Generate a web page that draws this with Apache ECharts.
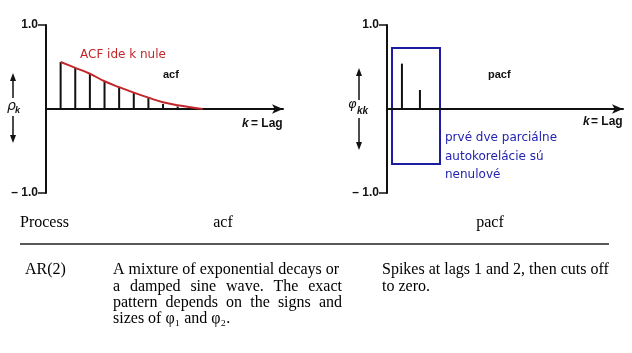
<!DOCTYPE html>
<html>
<head>
<meta charset="utf-8">
<script src="https://cdn.jsdelivr.net/npm/echarts@6/dist/echarts.min.js"></script>
<style>
html, body { margin: 0; padding: 0; background: #fff; }
#chart { width: 632px; height: 353px; }
</style>
</head>
<body>
<div id="chart"></div>
<script>
// acf spikes and the red envelope drawn over them
var acfLags = [1, 2, 3, 4, 5, 6, 7, 8, 9];
var acfValues = [0.56, 0.49, 0.42, 0.325, 0.26, 0.195, 0.13, 0.06, 0.03];
var curveLags = [1, 2, 3, 4, 5, 6, 7, 8, 9, 10.7];
var curveValues = [0.56, 0.49, 0.42, 0.33, 0.26, 0.195, 0.135, 0.08, 0.045, 0];
// pacf spikes
var pacfLags = [1, 2];
var pacfValues = [0.54, 0.226];

var tableHead = ['Process', 'acf', 'pacf'];
var acfText = [
	'A mixture of exponential decays or',
	'a damped sine wave. The exact',
	'pattern depends on the signs and',
	'sizes of \u03c6\u2081 and \u03c6\u2082.'
];
var pacfText = ['Spikes at lags 1 and 2, then cuts off', 'to zero.'];
var noteText = ['prvé dve parciálne', 'autokorelácie sú', 'nenulové'];

var sans = '"Liberation Sans", Arial, sans-serif';
var serif = '"Liberation Serif", "Times New Roman", serif';
var serifFont = '16px ' + serif;

function pairs(xs, ys) {
	return xs.map(function (x, i) { return [x, ys[i]]; });
}

function yAxisFor(gi) {
	return {
		gridIndex: gi,
		type: 'value',
		min: -1,
		max: 1,
		interval: 2,
		axisLine: { show: true, lineStyle: { color: '#111', width: 2 } },
		axisTick: { show: true, length: 8, lineStyle: { color: '#111', width: 1.5 } },
		axisLabel: {
			margin: 8,
			color: '#111',
			fontFamily: sans,
			fontWeight: 'bold',
			fontSize: 12,
			formatter: function (v) { return v > 0 ? '1.0' : '\u2013 1.0'; }
		},
		splitLine: { show: false }
	};
}

function xAxisFor(gi, min, max) {
	return {
		gridIndex: gi,
		type: 'value',
		min: min,
		max: max,
		axisLine: {
			show: true,
			onZero: true,
			symbol: ['none', 'arrow'],
			symbolSize: [7, 11],
			lineStyle: { color: '#111', width: 2 }
		},
		axisTick: { show: false },
		axisLabel: { show: false },
		splitLine: { show: false }
	};
}

// canvas measuring, used to spread words of a justified line
var measureCtx = document.createElement('canvas').getContext('2d');
function textLine(str, x, y, justifyTo) {
	if (!justifyTo) {
		return [{ type: 'text', style: { text: str, x: x, y: y, font: serifFont, fill: '#000', textVerticalAlign: 'middle' } }];
	}
	measureCtx.font = serifFont;
	var words = str.split(' ');
	var total = 0;
	words.forEach(function (w) { total += measureCtx.measureText(w).width; });
	var gap = (justifyTo - x - total) / (words.length - 1);
	var out = [];
	var cx = x;
	words.forEach(function (w) {
		out.push({ type: 'text', style: { text: w, x: cx, y: y, font: serifFont, fill: '#000', textVerticalAlign: 'middle' } });
		cx += measureCtx.measureText(w).width + gap;
	});
	return out;
}

function vArrows(x, upTop, upBottom, downTop, downBottom) {
	var st = { stroke: '#111', lineWidth: 1.5 };
	return [
		{ type: 'line', shape: { x1: x, y1: upBottom, x2: x, y2: upTop + 4 }, style: st },
		{ type: 'polygon', shape: { points: [[x, upTop], [x - 3, upTop + 8], [x + 3, upTop + 8]] }, style: { fill: '#111' } },
		{ type: 'line', shape: { x1: x, y1: downTop, x2: x, y2: downBottom - 4 }, style: st },
		{ type: 'polygon', shape: { points: [[x, downBottom], [x - 3, downBottom - 8], [x + 3, downBottom - 8]] }, style: { fill: '#111' } }
	];
}

function label(text, x, y, font, fill, align) {
	return { type: 'text', style: { text: text, x: x, y: y, font: font, fill: fill || '#111', textAlign: align || 'left', textVerticalAlign: 'middle' } };
}

var graphics = [];
// left chart labels
graphics.push(label('ACF ide k nule', 80, 55, '12px "DejaVu Sans", sans-serif', '#c3262a'));
graphics.push(label('acf', 163, 75, 'bold 11px ' + sans));
graphics.push(label('k', 242, 124, 'italic bold 12px ' + sans));
graphics.push(label('= Lag', 251, 124, 'bold 12px ' + sans));
graphics.push(label('\u03c1', 7, 106, 'italic 14px "DejaVu Sans", sans-serif'));
graphics.push(label('k', 15, 111, 'italic bold 9px ' + sans));
graphics = graphics.concat(vArrows(13, 73, 98, 116, 143));
// right chart labels
graphics.push(label('pacf', 488, 75, 'bold 11px ' + sans));
graphics.push(label('k', 583, 122, 'italic bold 12px ' + sans));
graphics.push(label('= Lag', 591, 122, 'bold 12px ' + sans));
graphics.push(label('\u03c6', 348, 105, 'italic 13px "DejaVu Sans", sans-serif'));
graphics.push(label('kk', 357, 111, 'italic bold 10px ' + sans));
graphics = graphics.concat(vArrows(359, 68, 100, 118, 150));
graphics.push({ type: 'rect', shape: { x: 392, y: 48, width: 48, height: 116 }, style: { fill: 'none', stroke: '#1c1ca0', lineWidth: 2 } });
noteText.forEach(function (t, i) {
	graphics.push(label(t, 445, 138 + i * 18.5, '12px "DejaVu Sans", sans-serif', '#2323b0'));
});
// table below the charts
graphics.push(label(tableHead[0], 20, 223, serifFont, '#000'));
graphics.push(label(tableHead[1], 223, 223, serifFont, '#000', 'center'));
graphics.push(label(tableHead[2], 490, 223, serifFont, '#000', 'center'));
graphics.push({ type: 'line', shape: { x1: 20, y1: 244, x2: 609, y2: 244 }, style: { stroke: '#222', lineWidth: 1.6 } });
graphics.push(label('AR(2)', 25, 270, serifFont, '#000'));
acfText.forEach(function (t, i) {
	graphics = graphics.concat(textLine(t, 113, 270 + i * 16.3, (i > 0 && i < 3) ? 342 : 0));
});
pacfText.forEach(function (t, i) {
	graphics = graphics.concat(textLine(t, 382, 270 + i * 16.3, 0));
});

var myChart = echarts.init(document.getElementById('chart'), null, { renderer: 'canvas' });
var option = {
	backgroundColor: '#fff',
	animation: false,
	grid: [
		{ left: 46, top: 25, width: 237, height: 168 },
		{ left: 387, top: 25, width: 236, height: 168 }
	],
	xAxis: [xAxisFor(0, 0, 16.2), xAxisFor(1, 0.17, 13.28)],
	yAxis: [yAxisFor(0), yAxisFor(1)],
	series: [
		{
			type: 'bar',
			xAxisIndex: 0,
			yAxisIndex: 0,
			barWidth: 2,
			itemStyle: { color: '#111' },
			data: pairs(acfLags, acfValues)
		},
		{
			type: 'line',
			xAxisIndex: 0,
			yAxisIndex: 0,
			smooth: 0.4,
			symbol: 'none',
			lineStyle: { color: '#c3262a', width: 2 },
			data: pairs(curveLags, curveValues),
			z: 3
		},
		{
			type: 'bar',
			xAxisIndex: 1,
			yAxisIndex: 1,
			barWidth: 2,
			itemStyle: { color: '#111' },
			data: pairs(pacfLags, pacfValues)
		}
	],
	graphic: graphics
};
myChart.setOption(option);
</script>
</body>
</html>
